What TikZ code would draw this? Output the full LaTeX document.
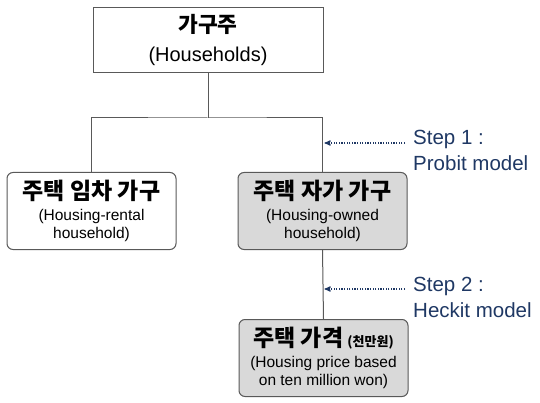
\documentclass[tikz,border=0pt]{standalone}
\usepackage{fontspec}
\setmainfont{Liberation Sans}
\newfontfamily\krfont{Noto Sans CJK KR}
\usetikzlibrary{arrows, positioning}
\definecolor{my_gray}{RGB}{217, 217, 217}
\definecolor{my_line}{RGB}{89, 89, 89}
\definecolor{my_navy}{RGB}{31, 56, 100}
\newcommand{\krtitle}[2]{{\krfont\fontsize{#1}{#1}\selectfont\bfseries #2}}
\tikzset {
  topbox/.style = {draw=my_line, line width=1pt, fill=white, rectangle, minimum width=230pt, minimum height=65pt, align=center, inner sep=0pt, font=\fontsize{20}{24}\selectfont},
  box/.style = {draw=my_line, line width=1pt, fill=white, rounded corners=6pt, rectangle, minimum width=169pt, minimum height=77pt, align=center, inner sep=0pt, font=\fontsize{15.5}{18}\selectfont},
  greybox/.style = {box, fill=my_gray},
  line/.style = {-, line width=1pt, color=my_line},
  steparrow/.style = {->, line width=1.2pt, color=my_navy, dash pattern=on 1.3pt off 1.3pt, shorten >=2pt, >=stealth'},
  steptext/.style = {anchor=west, align=left, text=my_navy, font=\fontsize{20.5}{26}\selectfont, inner sep=0pt}
}

\begin{document}
\begin{tikzpicture}[x=1pt, y=-1pt]
    \useasboundingbox (0,0) rectangle (540,403);

    \node[topbox] (hh) at (208,40) {\krtitle{21.5}{가구주}\\[5pt](Households)};
    \node[box] (rent) at (91.5,211) {\krtitle{23}{주택 임차 가구}\\[3pt](Housing-rental\\household)};
    \node[greybox] (own) at (322.5,211) {\krtitle{23}{주택 자가 가구}\\[3pt](Housing-owned\\household)};
    \node[greybox] (price) at (323.5,358) {\krtitle{23}{주택 가격} \krtitle{13}{(천만원)}\\[3pt](Housing price based\\on ten million won)};

    \node[steptext] (step1) at (413,150) {Step 1 :\\Probit model};
    \node[steptext] (step2) at (413,297) {Step 2 :\\Heckit model};

    \coordinate (split) at (208,118);
    \coordinate (a1) at (405,143);
    \coordinate (a2) at (405,289);

    \draw[line] (hh.south) -- (split);
    \draw[line] (rent.north) |- (split) -| (own.north);
    \draw[line] (own.south) -- (price.north);

    \draw[steparrow] (a1) -- (a1 -| own.north);
    \draw[steparrow] (a2) -- (a2 -| own.north);

\end{tikzpicture}
\end{document}
